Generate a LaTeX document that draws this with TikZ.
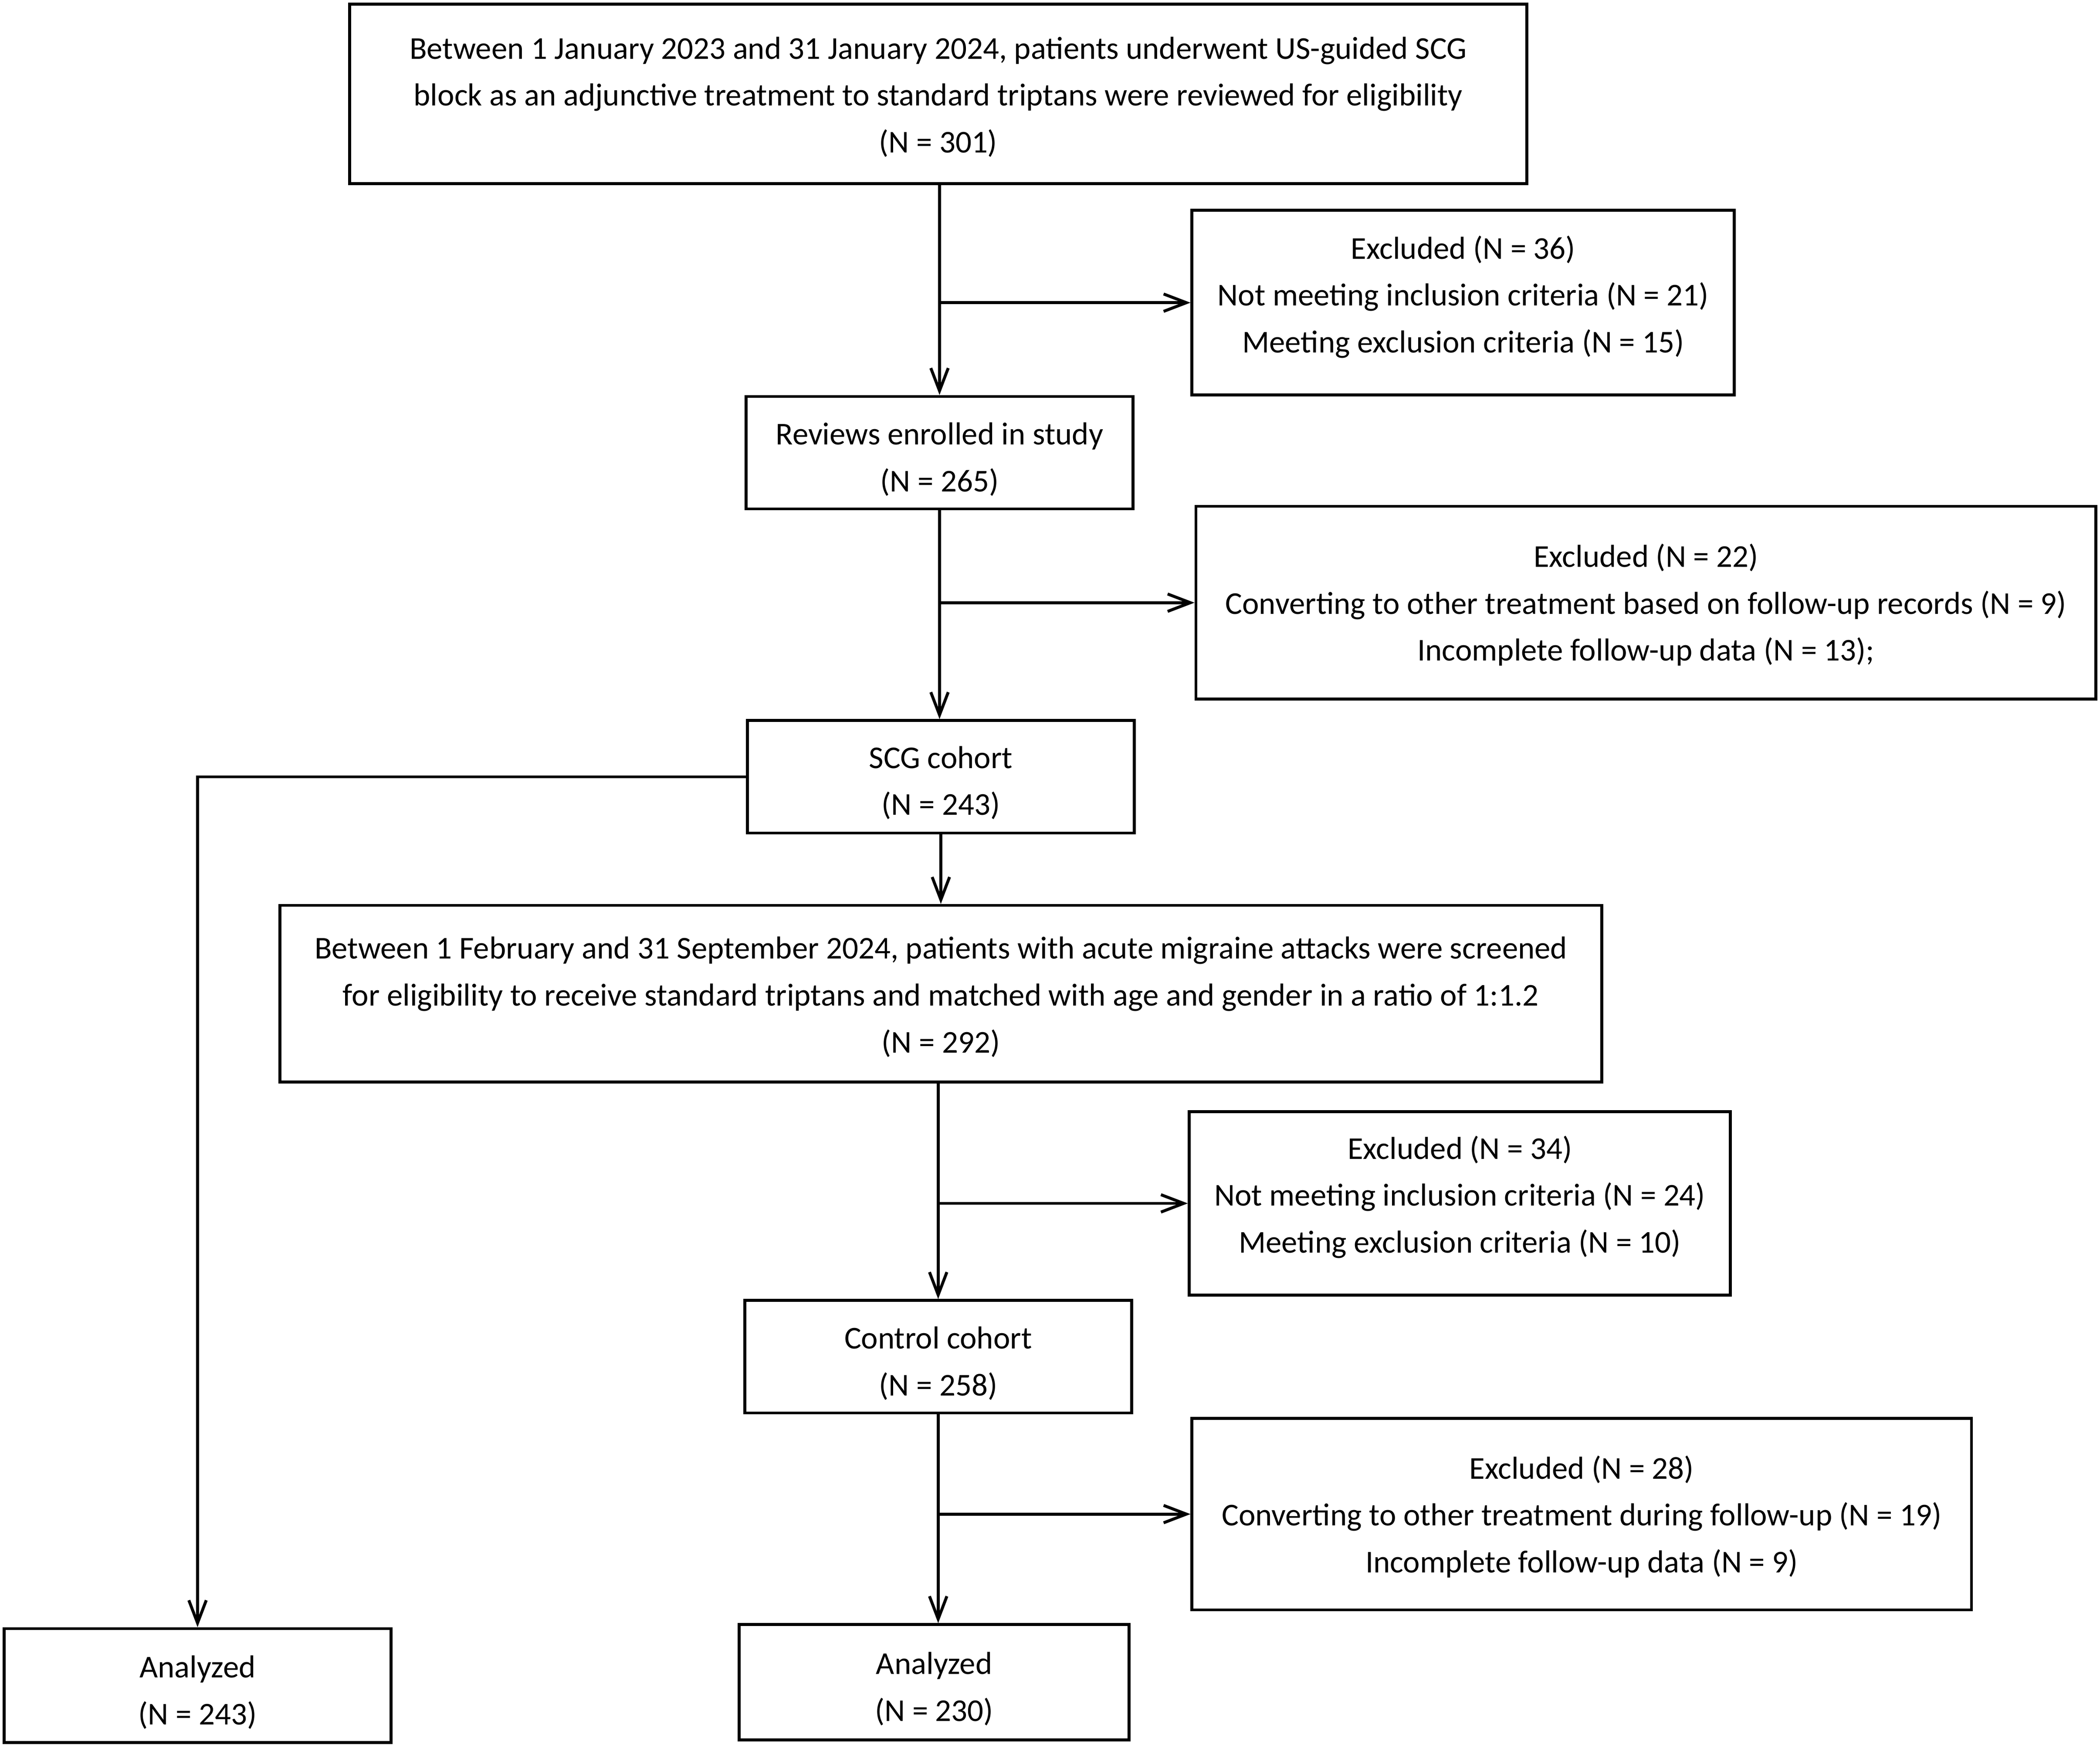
\documentclass[tikz,border=0pt]{standalone}
\usepackage{fontspec}
\setmainfont{Carlito}
\usetikzlibrary{arrows.meta}
\tikzset{box/.style={draw, line width=1.1pt, inner sep=0pt},
  txt/.style={align=center, inner sep=0pt, font=\fontsize{11.86pt}{17.5pt}\selectfont},
  arr/.style={line width=1.1pt, -{Straight Barb[length=8.5pt,width=6.5pt,line width=1.1pt]}}}
\begin{document}
\begin{tikzpicture}[x=0.5pt,y=-0.5pt]
    \useasboundingbox (0,0) rectangle (1568,1305);
    % boxes
    \node (top) [box, minimum width=439.5pt, minimum height=67pt] at (700.5,70) {};
    \node (ex1) [box, minimum width=202.5pt, minimum height=69pt] at (1092.5,226) {};
    \node (rev) [box, minimum width=144.5pt, minimum height=42pt] at (701.5,338) {};
    \node (ex2) [box, minimum width=336pt, minimum height=72pt] at (1229,450) {};
    \node (scg) [box, minimum width=144.5pt, minimum height=42pt] at (702.5,580) {};
    \node (scr) [box, minimum width=493.5pt, minimum height=66pt] at (702.5,742) {};
    \node (ex3) [box, minimum width=202pt, minimum height=68.5pt] at (1090,898.5) {};
    \node (ctl) [box, minimum width=144.5pt, minimum height=42pt] at (700.5,1013) {};
    \node (ex4) [box, minimum width=291pt, minimum height=71.5pt] at (1181,1130.5) {};
    \node (an1) [box, minimum width=144.5pt, minimum height=42.5pt] at (147.5,1258.5) {};
    \node (an2) [box, minimum width=145.5pt, minimum height=43pt] at (697.5,1256) {};
    % texts
    \node (topt) [txt] at (700.5,72.4)
        {Between 1 January 2023 and 31 January 2024, patients underwent US-guided SCG\\
         block as an adjunctive treatment to standard triptans were reviewed for eligibility\\
         (N = 301)};
    \node (ex1t) [txt] at (1092.5,221.7)
        {Excluded (N = 36)\\Not meeting inclusion criteria (N = 21)\\Meeting exclusion criteria (N = 15)};
    \node (revt) [txt] at (701.5,343) {Reviews enrolled in study\\(N = 265)};
    \node (ex2t) [txt] at (1229,451.7)
        {Excluded (N = 22)\\Converting to other treatment based on follow-up records (N = 9)\\Incomplete follow-up data (N = 13);};
    \node (scgt) [txt] at (702.5,584.5) {SCG cohort\\(N = 243)};
    \node (scrt) [txt] at (702.5,744.4)
        {Between 1 February and 31 September 2024, patients with acute migraine attacks were screened\\
         for eligibility to receive standard triptans and matched with age and gender in a ratio of 1:1.2\\
         (N = 292)};
    \node (ex3t) [txt] at (1090,893.7)
        {Excluded (N = 34)\\Not meeting inclusion criteria (N = 24)\\Meeting exclusion criteria (N = 10)};
    \node (ctlt) [txt] at (700.5,1018) {Control cohort\\(N = 258)};
    \node (ex4t) [txt] at (1181,1132.4)
        {Excluded (N = 28)\\Converting to other treatment during follow-up (N = 19)\\Incomplete follow-up data (N = 9)};
    \node (an1t) [txt] at (147.5,1263.5) {Analyzed\\(N = 243)};
    \node (an2t) [txt] at (697.5,1261) {Analyzed\\(N = 230)};
    % arrows
    \draw[arr] (top.south -| rev.north) -- (rev.north);
    \draw[arr] (rev.north |- ex1.west) -- (ex1.west);
    \draw[arr] (rev.south) -- (rev.south |- scg.north);
    \draw[arr] (rev.south |- ex2.west) -- (ex2.west);
    \draw[arr] (scg.south) -- (scg.south |- scr.north);
    \draw[arr] (scg.west) -| (an1.north);
    \draw[arr] (ctl.north |- scr.south) -- (ctl.north);
    \draw[arr] (ctl.north |- ex3.west) -- (ex3.west);
    \draw[arr] (ctl.south) -- (ctl.south |- an2.north);
    \draw[arr] (ctl.south |- ex4.west) -- (ex4.west);
\end{tikzpicture}
\end{document}
